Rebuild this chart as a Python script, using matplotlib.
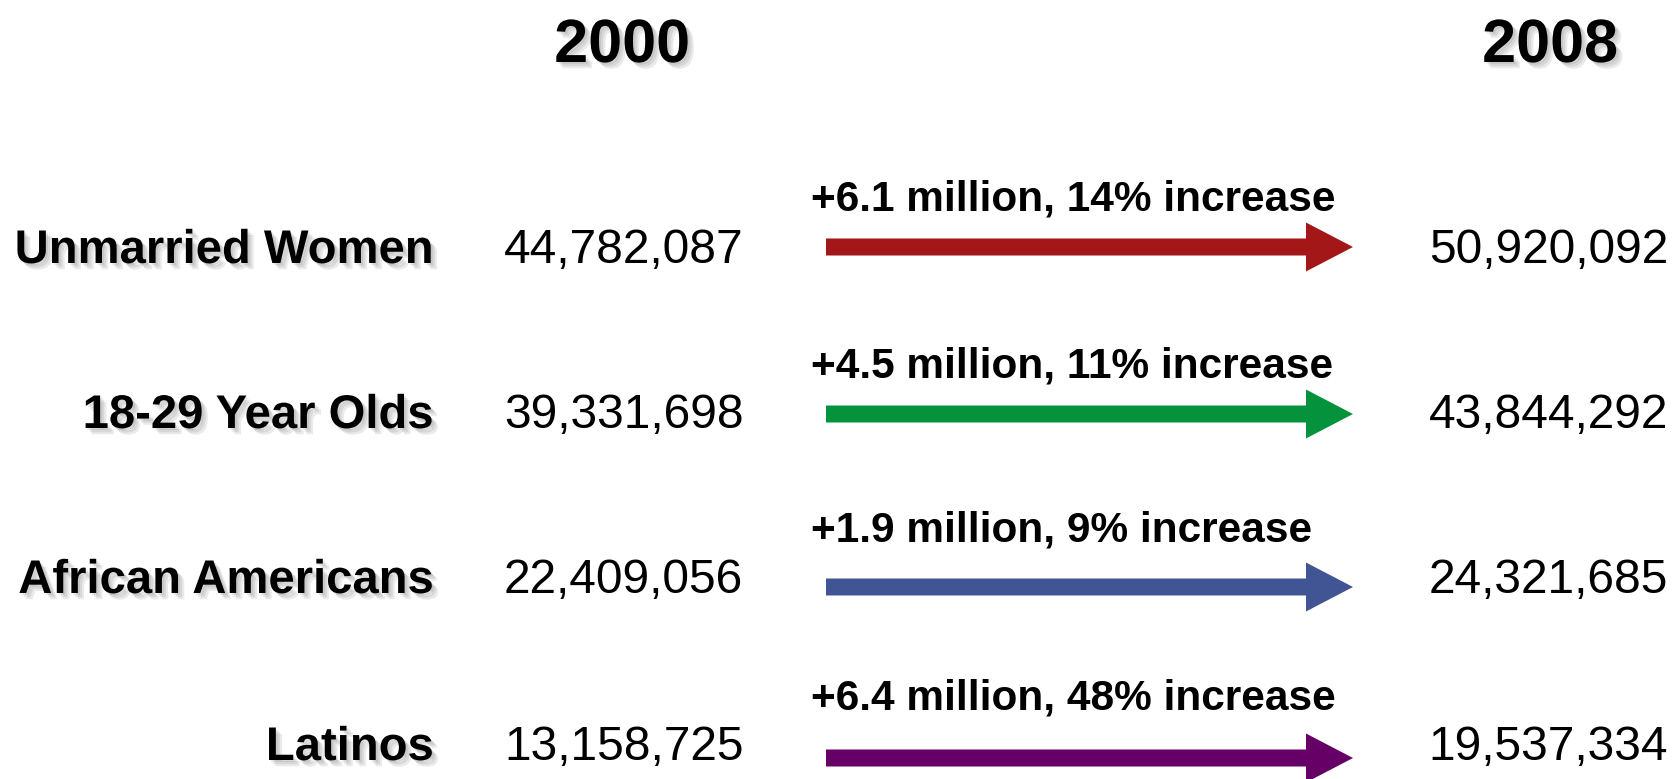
import matplotlib
matplotlib.use("Agg")
import matplotlib.pyplot as plt
import matplotlib.patheffects as pe
from matplotlib.patches import FancyArrow

plt.rcParams['font.family'] = ['Liberation Sans', 'DejaVu Sans']

years = ["2000", "2008"]
categories = ["Unmarried Women", "18-29 Year Olds", "African Americans", "Latinos"]
values_2000 = [44782087, 39331698, 22409056, 13158725]
values_2008 = [50920092, 43844292, 24321685, 19537334]
change_labels = ["+6.1 million, 14% increase", "+4.5 million, 11% increase",
                 "+1.9 million, 9% increase", "+6.4 million, 48% increase"]
arrow_colors = ["#A31719", "#04923C", "#415494", "#660066"]

W, H = 1680, 779
fig = plt.figure(figsize=(W / 100, H / 100), dpi=100)
ax = fig.add_axes([0, 0, 1, 1])
ax.set_xlim(0, W)
ax.set_ylim(H, 0)
ax.axis('off')

shadow = [pe.SimplePatchShadow(offset=(d, -d), shadow_rgbFace='#555555', alpha=0.12)
          for d in (1.5, 3, 4.5)] + [pe.Normal()]

# year headers
year_x = [622, 1550]
for yx, yr in zip(year_x, years):
    ax.text(yx, 62, yr, fontsize=44, fontweight='bold', ha='center', va='baseline',
            path_effects=shadow)

text_baselines = [263, 428, 593, 760]
arrow_y = [247, 414, 587, 758]
note_baselines = [210, 377, 541, 709]

for i, cat in enumerate(categories):
    yb = text_baselines[i]
    ax.text(434, yb, cat, fontsize=34, fontweight='bold', ha='right', va='baseline',
            path_effects=shadow)
    ax.text(504, yb, f"{values_2000[i]:,}", fontsize=34.5, ha='left', va='baseline')
    ax.text(1668, yb, f"{values_2008[i]:,}", fontsize=34.5, ha='right', va='baseline')
    ax.text(811, note_baselines[i], change_labels[i], fontsize=30.5, fontweight='bold',
            ha='left', va='baseline')
    ax.add_patch(FancyArrow(826, arrow_y[i], 1353 - 826, 0, width=17,
                            head_width=49, head_length=47, length_includes_head=True,
                            color=arrow_colors[i], linewidth=0))

fig.savefig("out.png", dpi=100, facecolor='white')
